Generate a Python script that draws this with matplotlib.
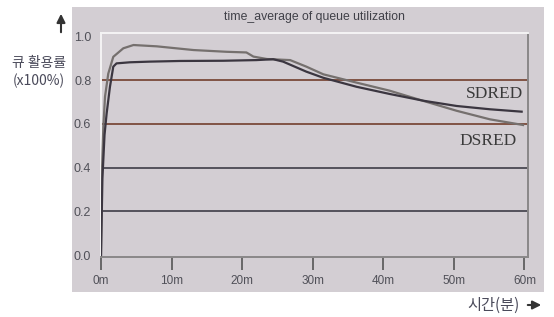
import matplotlib
matplotlib.use("Agg")
import matplotlib.pyplot as plt
from matplotlib.patches import Rectangle, FancyArrowPatch

# ---- data ----
sdred_t = [0, 0.2, 0.5, 0.8, 1.27, 1.74, 2.2, 4.1, 6.9, 11.2, 17.3, 22.0, 24.4, 25.8,
           29.1, 31.5, 36.2, 40.9, 45.7, 50.4, 55.1, 59.6]
sdred_v = [0, 0.35, 0.55, 0.648, 0.77, 0.862, 0.877, 0.882, 0.885, 0.888, 0.889, 0.892,
           0.896, 0.885, 0.839, 0.811, 0.770, 0.737, 0.706, 0.682, 0.667, 0.656]
dsred_t = [0, 0.15, 0.33, 0.57, 1.03, 1.74, 3.16, 4.6, 7.9, 13.1, 17.8, 20.6, 21.6, 23.5,
           26.8, 29.1, 31.5, 36.2, 40.9, 45.7, 50.4, 55.1, 59.8]
dsred_v = [0, 0.40, 0.587, 0.725, 0.83, 0.907, 0.946, 0.961, 0.955, 0.938, 0.930, 0.927,
           0.908, 0.897, 0.892, 0.862, 0.827, 0.789, 0.752, 0.705, 0.660, 0.621, 0.595]
x_ticks = [0, 10, 20, 30, 40, 50, 60]
x_tick_labels = ["0m", "10m", "20m", "30m", "40m", "50m", "60m"]
y_ticks = [0.0, 0.2, 0.4, 0.6, 0.8, 1.0]
y_tick_labels = ["0.0", "0.2", "0.4", "0.6", "0.8", "1.0"]
grid_levels = [0.2, 0.4, 0.6, 0.8]
grid_colors = ["#4a4852", "#4a4852", "#7a4a3a", "#7a4a3a"]

W, H = 554, 317
fig = plt.figure(figsize=(W / 100, H / 100), dpi=100)
fig.patch.set_facecolor("white")

def fx(px):
    return px / W

def fy(py):
    return 1 - py / H

panel_color = "#d3ced3"
panel = Rectangle((fx(72), fy(292)), (544 - 72) / W, (292 - 7) / H,
                  transform=fig.transFigure, facecolor=panel_color,
                  edgecolor="none", zorder=-10)
fig.patches.append(panel)

ax = fig.add_axes([fx(101), fy(257), (528 - 101) / W, (257 - 33) / H])
ax.set_zorder(5)
ax.set_facecolor(panel_color)
ax.set_xlim(0, 60.5)
ax.set_ylim(-0.009, 1.016)

for lvl, c in zip(grid_levels, grid_colors):
    ax.axhline(lvl, color=c, lw=1.3, zorder=1)

ax.plot(dsred_t, dsred_v, color="#75706e", lw=1.6, zorder=3)
ax.plot(sdred_t, sdred_v, color="#3b3640", lw=1.6, zorder=4)

ax.text(55.7, 0.737, "SDRED", family="Liberation Serif", fontsize=12.5,
        color="#3a3a3a", ha="center", va="center")
ax.text(54.8, 0.524, "DSRED", family="Liberation Serif", fontsize=12.5,
        color="#3a3a3a", ha="center", va="center")

ax.spines["top"].set_color("#f4f4f4")
ax.spines["left"].set_color("#f4f4f4")
ax.spines["right"].set_color("#8a8888")
ax.spines["bottom"].set_color("#8a8888")
for s in ax.spines.values():
    s.set_linewidth(1.4)

ax.set_xticks(x_ticks)
ax.set_xticklabels(x_tick_labels, family="Liberation Sans", fontsize=8.5, color="#505058")
ax.tick_params(axis="x", direction="out", length=9, width=1.2, color="#555",
               pad=4)
ax.set_yticks(y_ticks)
ax.set_yticklabels(y_tick_labels, family="Liberation Sans", fontsize=9, color="#505058")
ax.tick_params(axis="y", length=0, pad=7)

ax.set_title("time_average of queue utilization", family="Liberation Sans",
             fontsize=8.8, color="#404048", pad=9)

# outside labels
fig.text(fx(39), fy(63), "큐 활용률", family=["Noto Sans CJK KR", "DejaVu Sans"],
         fontsize=10, color="#4a4a5a", ha="center", va="center")
fig.text(fx(39), fy(81), "(x100%)", family=["Noto Sans CJK KR", "DejaVu Sans"],
         fontsize=10, color="#4a4a5a", ha="center", va="center")
fig.patches.append(FancyArrowPatch(
    (fx(61), fy(35)), (fx(61), fy(11)), transform=fig.transFigure,
    arrowstyle="-|>,head_length=5,head_width=2.5", color="#333", lw=1.5))
fig.text(fx(493), fy(305), "시간(분)", family=["Noto Sans CJK KR", "DejaVu Sans"],
         fontsize=11, color="#4a4a5a", ha="center", va="center")
fig.patches.append(FancyArrowPatch(
    (fx(525), fy(305)), (fx(544), fy(305)), transform=fig.transFigure,
    arrowstyle="-|>,head_length=5,head_width=2.5", color="#333", lw=1.5))

fig.savefig("out.png", dpi=100)
